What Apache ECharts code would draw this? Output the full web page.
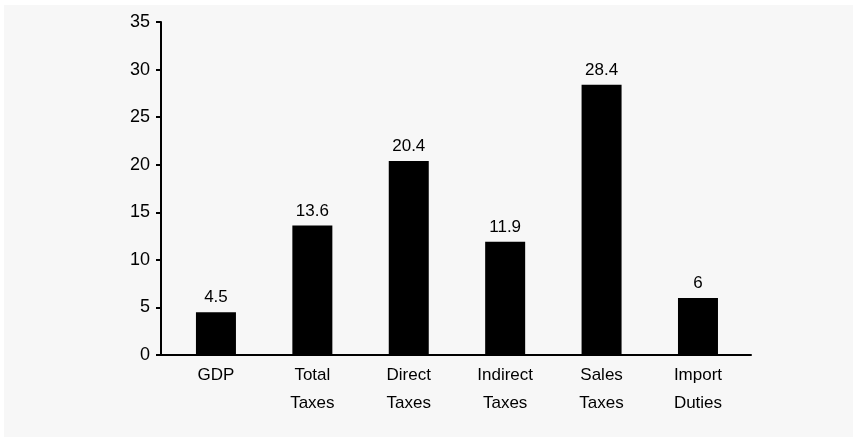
<!DOCTYPE html>
<html>
<head>
<meta charset="utf-8">
<script src="https://cdn.jsdelivr.net/npm/echarts@6/dist/echarts.min.js"></script>
<style>
  html, body { margin: 0; padding: 0; background: #ffffff; }
  #panel { position: absolute; left: 4px; top: 5px; width: 849px; height: 432px; background: #f7f7f7; }
  #chart { position: absolute; left: 0; top: 0; width: 859px; height: 442px; }
</style>
</head>
<body>
<div id="panel"></div>
<div id="chart"></div>
<script>
// Growth rates by revenue item
const categories = ['GDP', 'Total\nTaxes', 'Direct\nTaxes', 'Indirect\nTaxes', 'Sales\nTaxes', 'Import\nDuties'];
const values = [4.5, 13.6, 20.4, 11.9, 28.4, 6];
const yTicks = [0, 5, 10, 15, 20, 25, 30, 35];

const FONT = 'Liberation Sans, Arial, sans-serif';
const positions = categories.map((_, i) => i);

const chart = echarts.init(document.getElementById('chart'), null, { renderer: 'canvas' });
chart.setOption({
  backgroundColor: 'transparent',
  animation: false,
  grid: { left: 161, right: 108, top: 22, bottom: 87 },
  xAxis: {
    type: 'value',
    min: -0.57,
    max: 5.55,
    splitLine: { show: false },
    axisLine: { show: true, onZero: false, lineStyle: { color: '#000', width: 2 } },
    axisTick: { show: false },
    axisLabel: {
      customValues: positions,
      formatter: (v) => categories[Math.round(v)],
      color: '#000',
      fontFamily: FONT,
      fontSize: 17,
      lineHeight: 28,
      margin: 6
    }
  },
  yAxis: {
    type: 'value',
    min: yTicks[0],
    max: yTicks[yTicks.length - 1],
    interval: 5,
    splitLine: { show: false },
    axisLine: { show: true, onZero: false, lineStyle: { color: '#000', width: 2 } },
    axisTick: { show: true, inside: false, length: 5, lineStyle: { color: '#000', width: 2 } },
    axisLabel: { color: '#000', fontFamily: FONT, fontSize: 18, margin: 11 }
  },
  series: [{
    type: 'bar',
    barWidth: 40,
    data: values.map((v, i) => [positions[i], v]),
    itemStyle: { color: '#000' },
    label: {
      show: true,
      position: 'top',
      distance: 6,
      color: '#000',
      fontFamily: FONT,
      fontSize: 17
    }
  }]
});
</script>
</body>
</html>
